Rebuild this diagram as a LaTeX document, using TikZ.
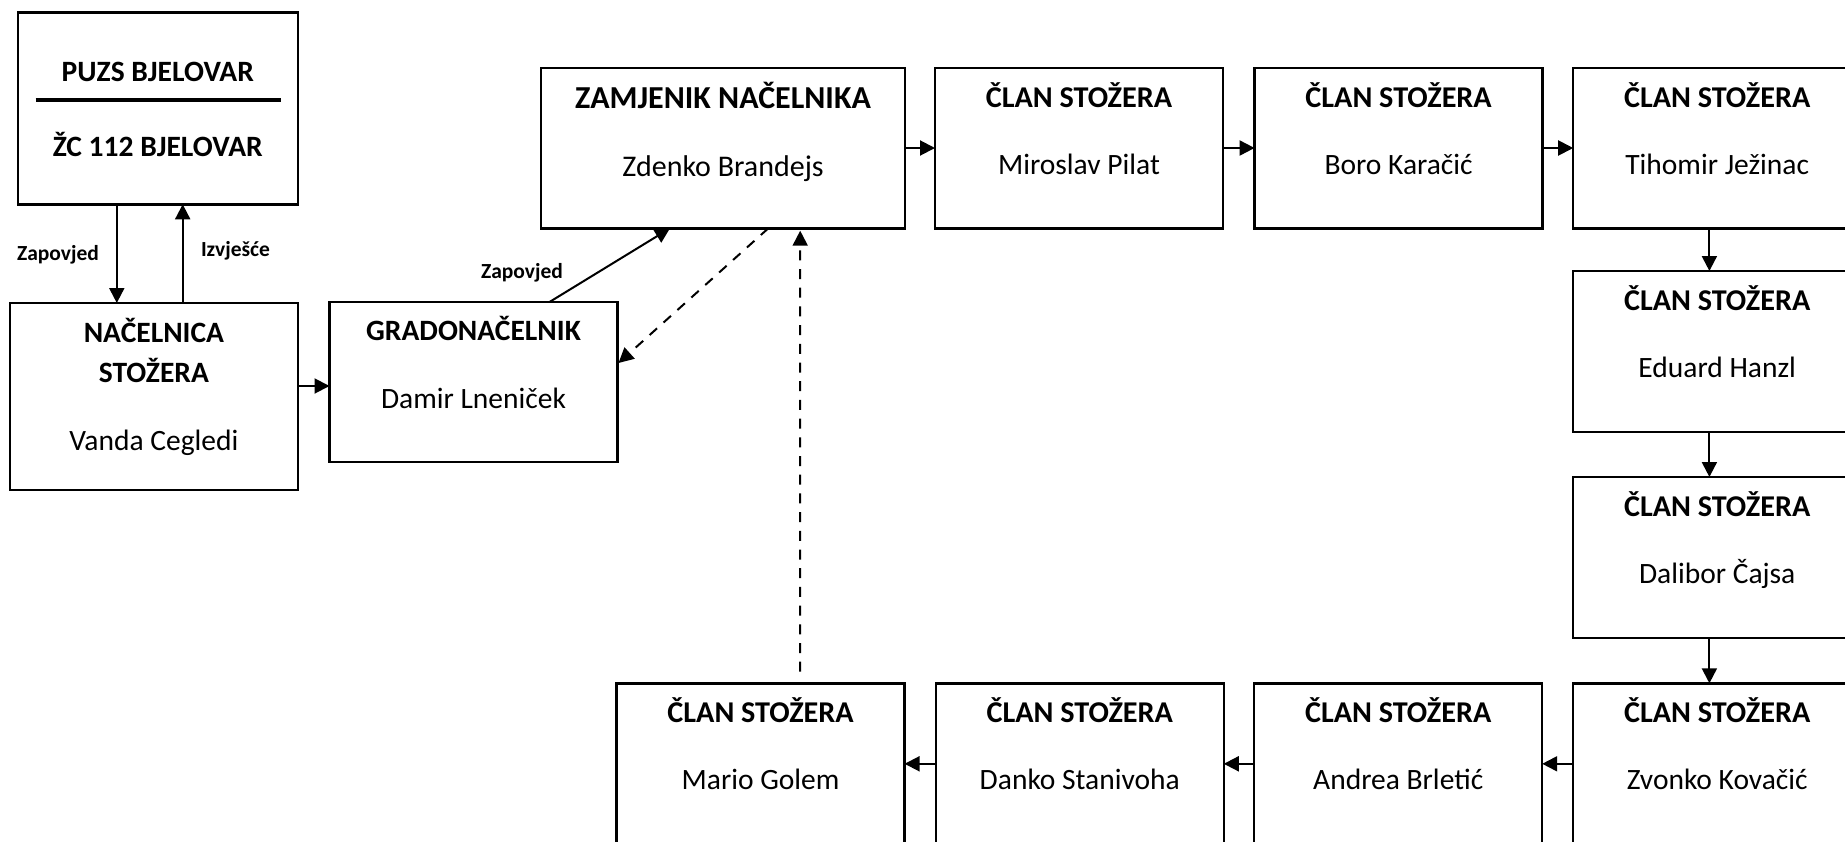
\documentclass[tikz,border=0pt]{standalone}
\usepackage{fontspec}
\setmainfont{Carlito}
\usetikzlibrary{arrows.meta,calc}
\begin{document}
\begin{tikzpicture}[x=1pt,y=-1pt,
  box/.style={draw, line width=2.4pt, anchor=north west, minimum width=288pt, minimum height=161pt, inner sep=0pt, outer sep=0pt},
  ttl/.style={anchor=base, font=\fontsize{29.5}{35}\selectfont\bfseries, inner sep=0pt},
  cttl/.style={ttl, font=\fontsize{30.2}{36}\selectfont\bfseries},
  nm/.style={anchor=base, font=\fontsize{29.5}{35}\selectfont, inner sep=0pt},
  lbl/.style={anchor=base, font=\fontsize{21.5}{25}\selectfont\bfseries, inner sep=0pt},
  arr/.style={line width=2pt, -{Triangle[length=15pt,width=15pt]}},
  darr/.style={arr, dash pattern=on 10pt off 8.7pt},
]
\useasboundingbox (0,0) rectangle (1845,841);
\clip (0,0) rectangle (1845,841);

% boxes
\node[box, minimum width=280pt, minimum height=192pt] (puzs) at (17.8,12.3) {};
\node[box, minimum width=288pt, minimum height=187pt] (nac) at (9.9,303) {};
\node[box, minimum height=160pt] (grad) at (329.5,302) {};
\node[box, minimum width=364pt, minimum height=160.6pt] (zam) at (541,67.7) {};
\node[box, minimum height=160.6pt] (c1) at (935,67.7) {};
\node[box, minimum height=160.6pt] (c2) at (1254.6,67.7) {};
\node[box, minimum height=160.6pt] (c3) at (1573.2,67.7) {};
\node[box] (c4) at (1573.2,271) {};
\node[box] (c5) at (1573.2,477) {};
\node[box] (c6) at (1573.2,683.3) {};
\node[box] (c7) at (1254.2,683.3) {};
\node[box] (c8) at (935.8,683.3) {};
\node[box] (c9) at (616.6,683.3) {};

% PUZS
\node[ttl] (puzs1) at ($(puzs.north)+(0,69.4)$) {PUZS BJELOVAR};
\draw[line width=3.4pt] (35.6,100) -- (280.7,100);
\node[ttl] (puzs2) at ($(puzs.north)+(0,144.4)$) {ŽC 112 BJELOVAR};

% Nacelnica
\node[ttl] (nac1) at ($(nac.north)+(0,39.7)$) {NAČELNICA};
\node[ttl] (nac2) at ($(nac.north)+(0,79.7)$) {STOŽERA};
\node[nm] (nac3) at ($(nac.north)+(0,147.7)$) {Vanda Cegledi};

% Gradonacelnik
\node[ttl] (grad1) at ($(grad.north)+(0,38.7)$) {GRADONAČELNIK};
\node[nm] (grad2) at ($(grad.north)+(0,106.3)$) {Damir Lneniček};

% Zamjenik
\node[ttl, font=\fontsize{32}{38}\selectfont\bfseries] (zam1) at ($(zam.north)+(0,40.6)$) {ZAMJENIK NAČELNIKA};
\node[nm, font=\fontsize{30}{36}\selectfont] (zam2) at ($(zam.north)+(0,108.5)$) {Zdenko Brandejs};

% members
\foreach \b/\n in {c1/Miroslav Pilat, c2/Boro Karačić, c3/Tihomir Ježinac, c4/Eduard Hanzl, c5/Dalibor Čajsa, c6/Zvonko Kovačić, c7/Andrea Brletić, c8/Danko Stanivoha, c9/Mario Golem}{
  \node[cttl] (\b t) at ($(\b.north)+(0,39.5)$) {ČLAN STOŽERA};
  \node[nm] (\b n) at ($(\b.north)+(0,106.5)$) {\n};
}

% labels
\node[lbl] (l1) at (58,260) {Zapovjed};
\node[lbl] (l2) at (235.5,256.7) {Izvješće};
\node[lbl] (l3) at (522,278.3) {Zapovjed};

% connectors
\coordinate (xa) at (116.8,0);
\coordinate (xb) at (182.7,0);
\coordinate (ya) at (0,386);
\coordinate (vx) at (1709.4,0);
\draw[arr] (puzs.south -| xa) -- (nac.north -| xa);
\draw[arr] (nac.north -| xb) -- (puzs.south -| xb);
\draw[arr] (nac.east |- ya) -- (grad.west |- ya);
\draw[arr] ($(grad.north west)+(220,0)$) -- ($(zam.south west)+(129,0)$);
\draw[darr] ($(zam.south west)+(227.3,0)$) -- ($(grad.north east)+(1,61)$);
\draw[darr] ($(c9.north west)+(183.4,-11.6)$) -- ($(zam.south west)+(259.2,2.4)$);
\draw[arr] (zam.east) -- (c1.west);
\draw[arr] (c1.east) -- (c2.west);
\draw[arr] (c2.east) -- (c3.west);
\draw[arr] (c3.south -| vx) -- (c4.north -| vx);
\draw[arr] (c4.south -| vx) -- (c5.north -| vx);
\draw[arr] (c5.south -| vx) -- (c6.north -| vx);
\draw[arr] (c6.west) -- (c7.east);
\draw[arr] (c7.west) -- (c8.east);
\draw[arr] (c8.west) -- (c9.east);
\end{tikzpicture}
\end{document}
